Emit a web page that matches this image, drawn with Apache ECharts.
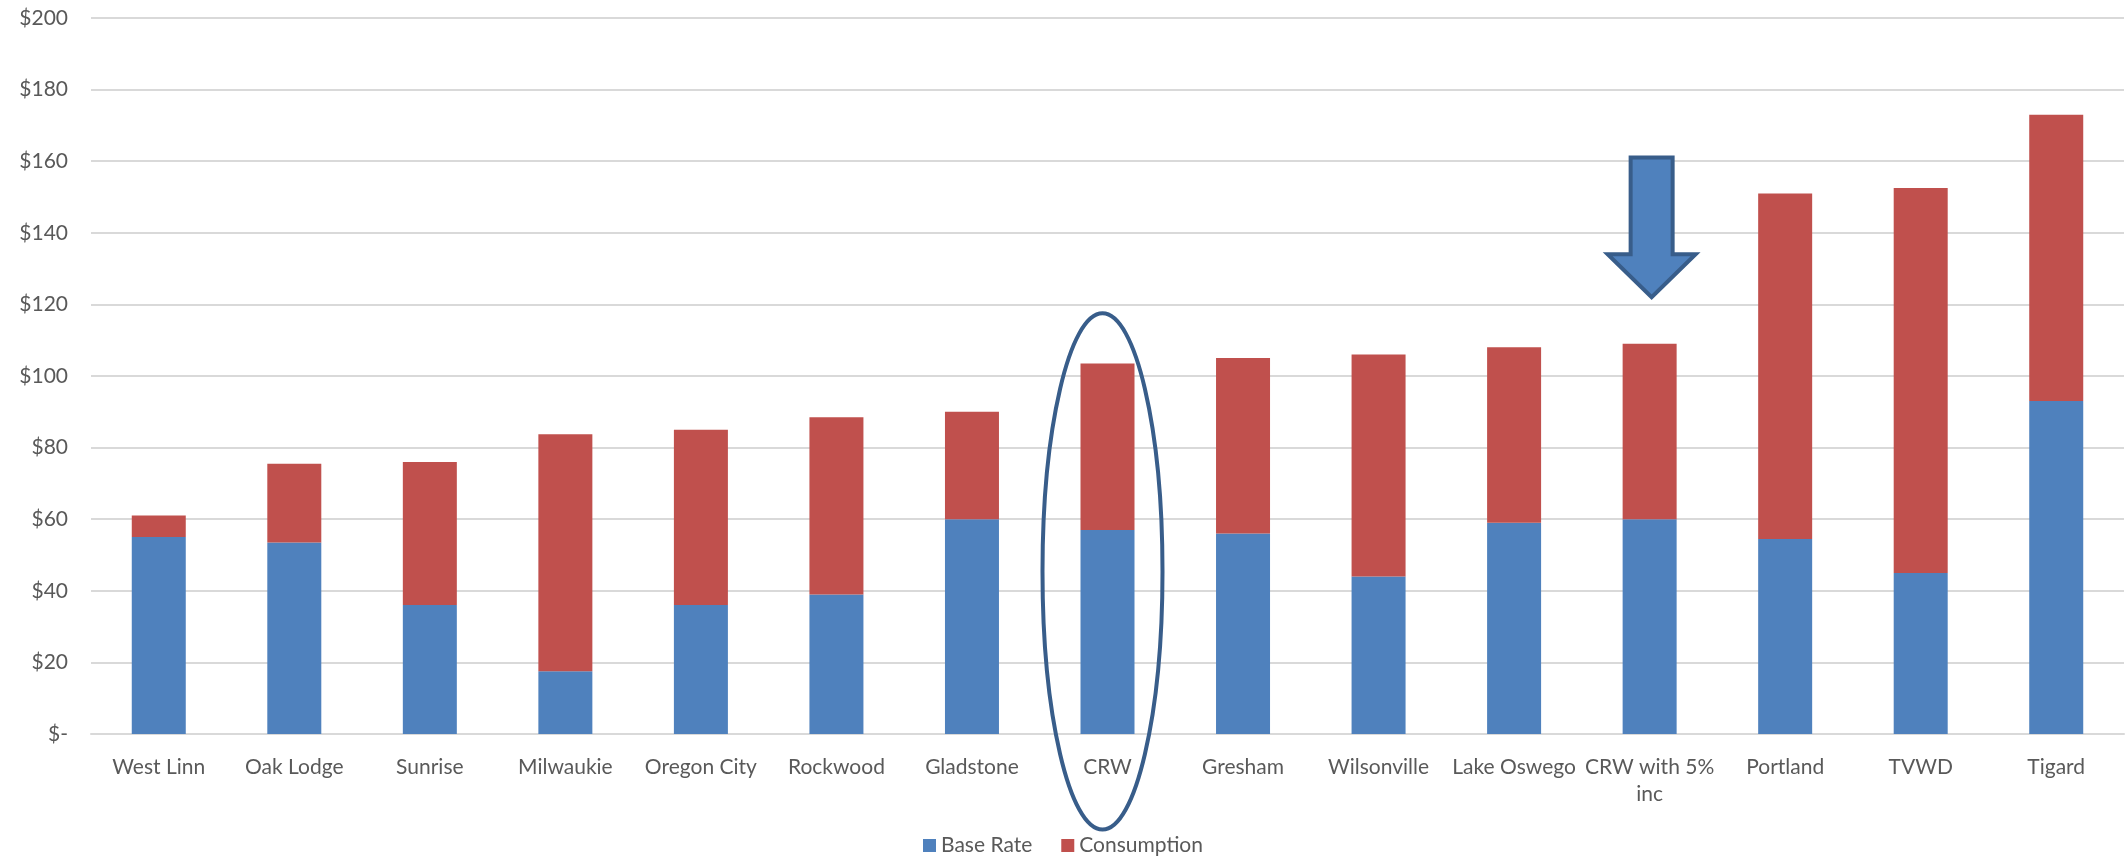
<html lang="en">
<head>
    <meta charset="UTF-8">
    <title>Water bill comparison</title>
    <script src="https://cdn.jsdelivr.net/npm/echarts@6/dist/echarts.min.js"></script>
    <style>
        body { margin: 0; background: #fff; }
        #mychart { width: 2126px; height: 859px; }
    </style>
</head>
<body>
<div id="mychart"></div>
<script>
    var cities = ['West Linn', 'Oak Lodge', 'Sunrise', 'Milwaukie', 'Oregon City', 'Rockwood', 'Gladstone',
        'CRW', 'Gresham', 'Wilsonville', 'Lake Oswego', 'CRW with 5% inc', 'Portland', 'TVWD', 'Tigard'];
    var baseRate = [55, 53.5, 36, 17.5, 36, 39, 60, 57, 56, 44, 59, 60, 54.5, 45, 93];
    var consumption = [6, 22, 40, 66.2, 49, 49.5, 30, 46.5, 49, 62, 49, 49, 96.5, 107.5, 80];
    var yTicks = [0, 20, 40, 60, 80, 100, 120, 140, 160, 180, 200];

    var e = echarts.init(document.getElementById('mychart'));
    var txt = '#595959';
    var op = {
        animation: false,
        textStyle: { fontFamily: 'Lato' },
        grid: { left: 91, right: 2, top: 18, bottom: 125 },
        legend: {
            data: ['Base Rate', 'Consumption'],
            bottom: -2,
            left: 'center',
            itemWidth: 13,
            itemHeight: 13,
            itemGap: 29,
            icon: 'rect',
            textStyle: { color: txt, fontSize: 21, fontFamily: 'Lato' }
        },
        xAxis: {
            type: 'category',
            data: cities,
            axisLine: { lineStyle: { color: '#d9d9d9', width: 2 } },
            axisTick: { show: false },
            axisLabel: {
                color: txt, fontSize: 21, margin: 20, interval: 0, lineHeight: 27,
                formatter: function (v) { return v.replace('5% ', '5%\n'); }
            }
        },
        yAxis: {
            type: 'value',
            min: yTicks[0],
            max: yTicks[yTicks.length - 1],
            interval: 20,
            axisLine: { show: false },
            axisTick: { show: false },
            splitLine: { lineStyle: { color: '#d9d9d9', width: 2 } },
            axisLabel: {
                color: txt, fontSize: 21, margin: 23,
                formatter: function (v) { return v === 0 ? '$-' : '$' + v; }
            }
        },
        series: [{
            name: 'Base Rate',
            type: 'bar',
            stack: 'bill',
            barWidth: 54,
            data: baseRate,
            itemStyle: { color: '#4F81BD' }
        }, {
            name: 'Consumption',
            type: 'bar',
            stack: 'bill',
            barWidth: 54,
            data: consumption,
            itemStyle: { color: '#C0504D' }
        }]
    };
    e.setOption(op);

    // annotations: ellipse round CRW, arrow over CRW with 5% inc
    var c = e.convertToPixel({ xAxisIndex: 0, yAxisIndex: 0 }, ['CRW', 45.4]);
    var cTop = e.convertToPixel({ xAxisIndex: 0, yAxisIndex: 0 }, ['CRW', 117.5]);
    var tip = e.convertToPixel({ xAxisIndex: 0, yAxisIndex: 0 }, ['CRW with 5% inc', 122]);
    var shaftTop = e.convertToPixel({ xAxisIndex: 0, yAxisIndex: 0 }, ['CRW with 5% inc', 161]);
    var headBase = e.convertToPixel({ xAxisIndex: 0, yAxisIndex: 0 }, ['CRW with 5% inc', 134]);
    var ax = tip[0] + 2, sw = 21, hw = 44;
    e.setOption({
        graphic: [{
            type: 'ellipse',
            shape: { cx: c[0] - 5, cy: c[1], rx: 60, ry: c[1] - cTop[1] },
            style: { fill: 'none', stroke: '#385D8A', lineWidth: 4 },
            z: 100
        }, {
            type: 'polygon',
            shape: {
                points: [
                    [ax - sw, shaftTop[1]], [ax + sw, shaftTop[1]], [ax + sw, headBase[1]],
                    [ax + hw, headBase[1]], [ax, tip[1]], [ax - hw, headBase[1]], [ax - sw, headBase[1]]
                ]
            },
            style: { fill: '#4F81BD', stroke: '#385D8A', lineWidth: 4, lineJoin: 'miter' },
            z: 100
        }]
    });
</script>
</body>
</html>
